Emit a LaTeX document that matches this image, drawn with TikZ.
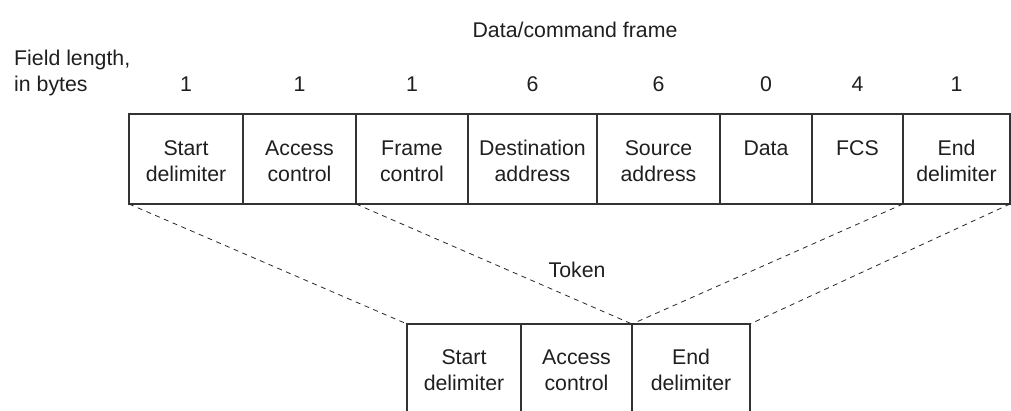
\documentclass[tikz,border=0pt]{standalone}
\usepackage{fontspec}
\setmainfont{Liberation Sans}
\begin{document}
\begin{tikzpicture}[x=1pt,y=-1pt,
  every node/.style={font=\fontsize{21.3}{26}\selectfont, text=black!88},
  field/.style={draw=black!80, line width=1.1pt, rectangle, inner sep=0pt, outer sep=0pt,
    anchor=north west, text height=41pt, text depth=49pt},
  tfield/.style={field, text height=40pt, text depth=70pt},
  num/.style={anchor=base, inner sep=0pt},
  link/.style={draw=black!85, line width=0.8pt, dash pattern=on 5pt off 4.5pt}]
\clip (0,0) rectangle (1011,410);
% frame fields
\node[field, minimum width=114] (sd) at (129,114) {\begin{tabular}[t]{c}Start\\delimiter\end{tabular}};
\node[field, minimum width=113] (ac) at (243,114) {\begin{tabular}[t]{c}Access\\control\end{tabular}};
\node[field, minimum width=112] (fc) at (356,114) {\begin{tabular}[t]{c}Frame\\control\end{tabular}};
\node[field, minimum width=129] (da) at (468,114) {\begin{tabular}[t]{c}Destination\\address\end{tabular}};
\node[field, minimum width=123] (sa) at (597,114) {\begin{tabular}[t]{c}Source\\address\end{tabular}};
\node[field, minimum width=92] (dt) at (720,114) {\begin{tabular}[t]{c}Data\end{tabular}};
\node[field, minimum width=91] (fcs) at (812,114) {\begin{tabular}[t]{c}FCS\end{tabular}};
\node[field, minimum width=107] (ed) at (903,114) {\begin{tabular}[t]{c}End\\delimiter\end{tabular}};
% token fields
\node[tfield, minimum width=114] (tsd) at (407,324) {\begin{tabular}[t]{c}Start\\delimiter\end{tabular}};
\node[tfield, minimum width=111] (tac) at (521,324) {\begin{tabular}[t]{c}Access\\control\end{tabular}};
\node[tfield, minimum width=118] (ted) at (632,324) {\begin{tabular}[t]{c}End\\delimiter\end{tabular}};
% labels
\node[num] (title) at (575,37) {Data/command frame};
\node[anchor=base west, inner sep=0pt] (fl) at (14,65) {\begin{tabular}[t]{@{}l@{}}Field length,\\in bytes\end{tabular}};
\node[num] (n1) at (186,91) {1};
\node[num] (n2) at (299.5,91) {1};
\node[num] (n3) at (412,91) {1};
\node[num] (n4) at (532.5,91) {6};
\node[num] (n5) at (658.5,91) {6};
\node[num] (n6) at (766,91) {0};
\node[num] (n7) at (857.5,91) {4};
\node[num] (n8) at (956.5,91) {1};
\node[num] (tok) at (577,277) {Token};
% dashed links
\draw[link] (sd.south west) -- (tsd.north west);
\draw[link] (ac.south east) -- (tac.north east);
\draw[link] (ed.south west) -- (ted.north west);
\draw[link] (ed.south east) -- (ted.north east);
\end{tikzpicture}
\end{document}
